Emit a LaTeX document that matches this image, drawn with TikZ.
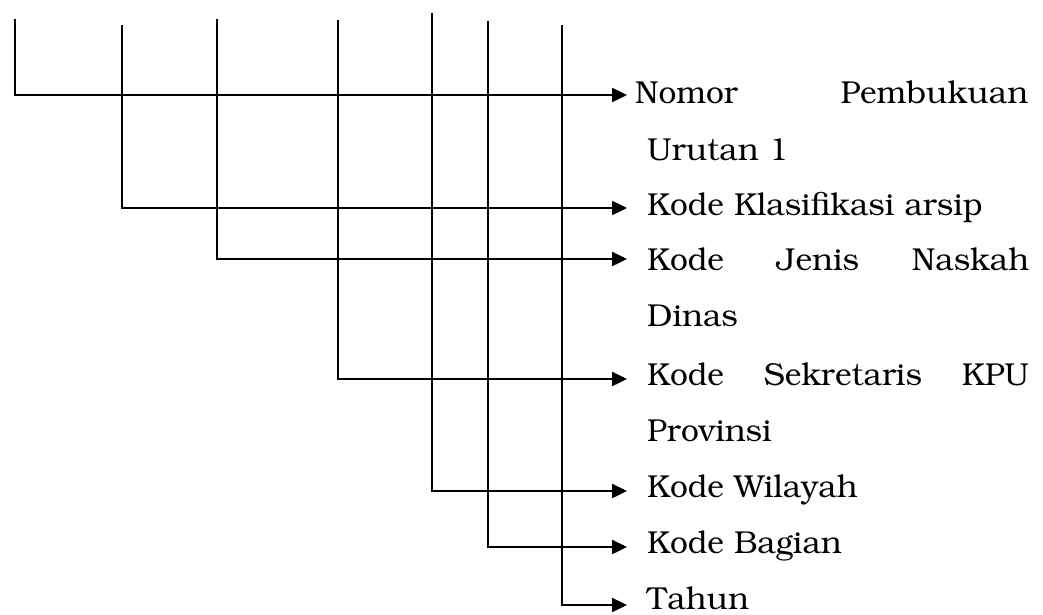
\documentclass[tikz,border=0pt]{standalone}
\usepackage[T1]{fontenc}
\usepackage{bookman}
\usetikzlibrary{arrows.meta}

\tikzset{
  itemtext/.style={anchor=base west, inner sep=0pt, font=\fontsize{31.7}{56}\selectfont},
  feed/.style={line width=2.4pt, -{Triangle[length=15pt,width=14pt]}},
}

\begin{document}
\begin{tikzpicture}[x=1pt,y=-1pt]
  \useasboundingbox (0,0) rectangle (1043,615);

  \coordinate (t1) at (15,19);
  \coordinate (t2) at (122,25);
  \coordinate (t3) at (217,19);
  \coordinate (t4) at (338,20);
  \coordinate (t5) at (432,13);
  \coordinate (t6) at (488,21);
  \coordinate (t7) at (562,25);

  \node [itemtext] (nomor) at (635,104) {\parbox[t]{400pt}{\makebox[393pt][s]{Nomor Pembukuan}\\\hspace*{12pt}Urutan 1}};
  \node [itemtext] (klasifikasi) at (647,215) {Kode Klasifikasi arsip};
  \node [itemtext] (jenis) at (647,270) {\parbox[t]{390pt}{\makebox[382pt][s]{Kode Jenis Naskah}\\Dinas}};
  \node [itemtext] (sekretaris) at (647,385) {\parbox[t]{390pt}{\makebox[382pt][s]{Kode Sekretaris KPU}\\Provinsi}};
  \node [itemtext] (wilayah) at (647,497) {Kode Wilayah};
  \node [itemtext] (bagian) at (647,553) {Kode Bagian};
  \node [itemtext] (tahun) at (647,609) {Tahun};

  \draw [feed] (t1) |- ([xshift=-8pt,yshift=9pt]nomor.base west);
  \draw [feed] (t2) |- ([xshift=-20pt,yshift=7pt]klasifikasi.base west);
  \draw [feed] (t3) |- ([xshift=-20pt,yshift=11pt]jenis.base west);
  \draw [feed] (t4) |- ([xshift=-20pt,yshift=6pt]sekretaris.base west);
  \draw [feed] (t5) |- ([xshift=-20pt,yshift=6pt]wilayah.base west);
  \draw [feed] (t6) |- ([xshift=-20pt,yshift=6pt]bagian.base west);
  \draw [feed] (t7) |- ([xshift=-20pt,yshift=4pt]tahun.base west);
\end{tikzpicture}
\end{document}
